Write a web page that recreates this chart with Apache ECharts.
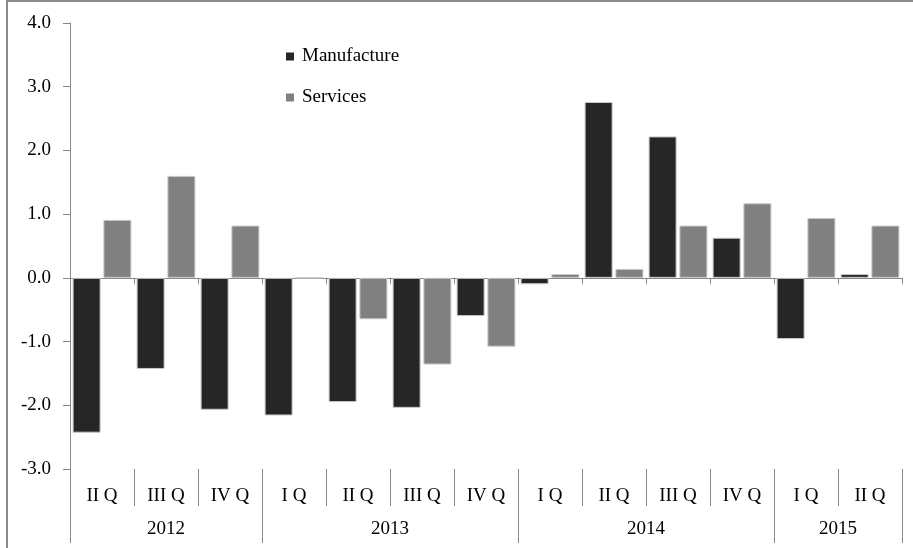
<!DOCTYPE html>
<html>
<head>
<meta charset="utf-8">
<script src="https://cdn.jsdelivr.net/npm/echarts@6/dist/echarts.min.js"></script>
<style>
html, body { margin: 0; padding: 0; background: #fff; }
#main { width: 913px; height: 548px; }
</style>
</head>
<body>
<div id="main"></div>
<script>
// quarters along the axis, years grouped under them
var quarters = ['II Q', 'III Q', 'IV Q', 'I Q', 'II Q', 'III Q', 'IV Q', 'I Q', 'II Q', 'III Q', 'IV Q', 'I Q', 'II Q'];
var years = ['2012', '2013', '2014', '2015'];
var yearSpans = [3, 4, 4, 2];

var manufacture = [-2.43, -1.43, -2.07, -2.16, -1.95, -2.04, -0.60, -0.10, 2.76, 2.22, 0.63, -0.96, 0.06];
var services = [0.91, 1.60, 0.82, 0, -0.65, -1.36, -1.08, 0.06, 0.14, 0.82, 1.17, 0.94, 0.82];

// year separators + centers in category units
var yearBounds = [0];
var yearCenters = [];
yearSpans.forEach(function (n, i) {
    var start = yearBounds[i];
    yearBounds.push(start + n);
    yearCenters.push(start + n / 2);
});

var font = 'Liberation Serif';
var gray = '#868686';

var chart = echarts.init(document.getElementById('main'));
chart.setOption({
    animation: false,
    grid: { left: 70, right: 11, top: 23, bottom: 79 },
    legend: {
        orient: 'vertical',
        left: 281,
        top: 42,
        icon: 'rect',
        itemWidth: 8,
        itemHeight: 8,
        itemGap: 22,
        itemStyle: { borderWidth: 0 },
        textStyle: { fontFamily: font, fontSize: 19, color: '#000', padding: [0, 0, 0, 3] },
        data: ['Manufacture', 'Services']
    },
    xAxis: [{
        type: 'category',
        data: quarters,
        axisLine: { onZero: true, lineStyle: { color: gray } },
        axisTick: { show: true, interval: 0, length: 6, lineStyle: { color: gray } },
        axisLabel: { show: false }
    }, {
        type: 'category',
        data: quarters,
        position: 'bottom',
        axisLine: { show: false, onZero: false },
        axisTick: { show: true, interval: 0, length: 37, lineStyle: { color: gray } },
        axisLabel: { interval: 0, margin: 18, fontFamily: font, fontSize: 19, color: '#000' }
    }, {
        type: 'value',
        min: 0,
        max: quarters.length,
        position: 'bottom',
        axisLine: { show: false, onZero: false },
        splitLine: { show: false },
        axisTick: { show: true, length: 74, customValues: yearBounds, lineStyle: { color: gray } },
        axisLabel: {
            margin: 51,
            fontFamily: font,
            fontSize: 19,
            color: '#000',
            customValues: yearCenters,
            formatter: function (v) { return years[yearCenters.indexOf(v)]; }
        }
    }],
    yAxis: {
        type: 'value',
        min: -3,
        max: 4,
        interval: 1,
        axisLine: { show: true, onZero: false, lineStyle: { color: gray } },
        axisTick: { show: true, length: 7, lineStyle: { color: gray } },
        splitLine: { show: false },
        axisLabel: {
            margin: 19,
            fontFamily: font,
            fontSize: 19,
            color: '#000',
            formatter: function (v) { return v.toFixed(1); }
        }
    },
    series: [{
        name: 'Manufacture',
        type: 'bar',
        data: manufacture,
        barWidth: 28,
        barGap: '10%',
        itemStyle: { color: '#262626', borderColor: '#c8c8c8', borderWidth: 1 }
    }, {
        name: 'Services',
        type: 'bar',
        data: services,
        barWidth: 28,
        itemStyle: { color: '#808080', borderColor: '#c8c8c8', borderWidth: 1 }
    }],
    graphic: [{
        type: 'rect',
        silent: true,
        shape: { x: 7, y: 1, width: 1000, height: 1000 },
        style: { fill: 'none', stroke: '#8c8c8c', lineWidth: 2 }
    }]
});
</script>
</body>
</html>
